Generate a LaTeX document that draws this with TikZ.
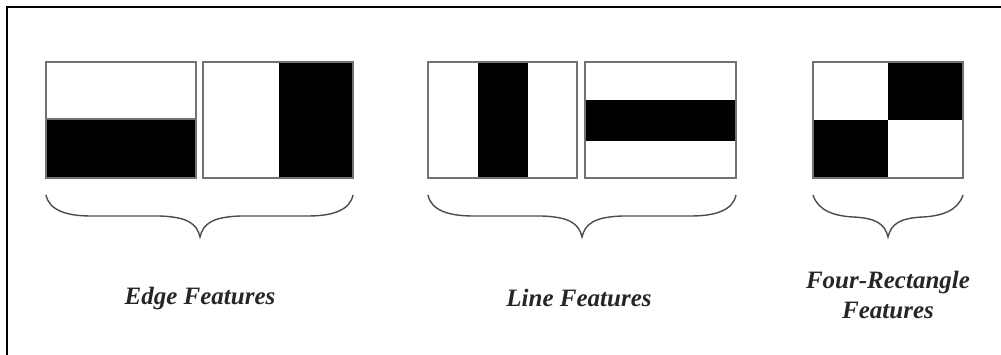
\documentclass[tikz,border=0pt]{standalone}
\usepackage{fontspec}
\setmainfont{Liberation Serif}
\usepackage{tikz}
\usetikzlibrary{positioning,calc}

\tikzset{
  featbox/.style={draw=black!55,line width=1.2pt,fill=white},
  blk/.style={fill=black},
  bracel/.style={draw=black!70,line width=1.4pt},
  featlabel/.style={font=\fontsize{25}{30}\selectfont\bfseries\itshape,text=black!85,align=center,inner sep=0pt}
}

\begin{document}
\begin{tikzpicture}[x=1pt,y=-1pt]
\useasboundingbox (0,0) rectangle (1001,355);

\draw[line width=2.2pt] (1001,7)--(7,7)--(7,355);

% edge features
\fill[blk] (46,119) rectangle (196,178);
\draw[featbox,fill=none] (46,62) rectangle (196,178);
\draw[featbox,fill=none] (46,119)--(196,119);

\fill[blk] (279,62) rectangle (353,178);
\draw[featbox,fill=none] (203,62) rectangle (353,178);

% line features
\fill[blk] (478,62) rectangle (528,178);
\draw[featbox,fill=none] (428,62) rectangle (577,178);

\fill[blk] (585,100) rectangle (736,141);
\draw[featbox,fill=none] (585,62) rectangle (736,178);

% four-rectangle features
\fill[blk] (888,62) rectangle (963,120);
\fill[blk] (813,120) rectangle (888,178);
\draw[featbox,fill=none] (813,62) rectangle (963,178);

\draw[bracel] (46,195) .. controls (49,210) and (66,216) .. (91,216) -- (160,216)
  .. controls (188,217) and (197,224) .. (200,237)
  .. controls (203,224) and (212,217) .. (240,216) -- (308,216)
  .. controls (333,216) and (350,210) .. (353,195);

\draw[bracel] (428,195) .. controls (431,210) and (448,216) .. (473,216) -- (542,216)
  .. controls (570,217) and (579,224) .. (582,237)
  .. controls (585,224) and (594,217) .. (622,216) -- (691,216)
  .. controls (716,216) and (733,210) .. (736,195);

\draw[bracel] (813,195) .. controls (818,211) and (835,216) .. (853,217)
  .. controls (876,218) and (885,224) .. (888,237)
  .. controls (891,224) and (900,218) .. (923,217)
  .. controls (941,216) and (958,211) .. (963,195);

\node[featlabel] (edgelbl) at (200,298) {Edge Features};
\node[featlabel] (linelbl) at (579,298) {Line Features};
\node[featlabel] (fourlbl) at (888,295) {Four-Rectangle\\Features};
\end{tikzpicture}
\end{document}
